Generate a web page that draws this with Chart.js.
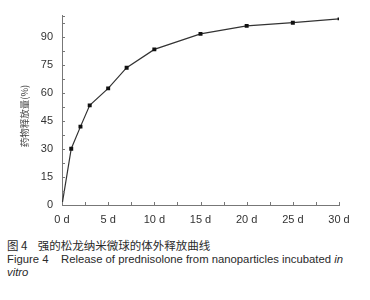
<!DOCTYPE html>
<html>
<head>
<meta charset="utf-8">
<script src="https://cdn.jsdelivr.net/npm/chart.js@4/dist/chart.umd.min.js"></script>
<style>
  html, body { margin: 0; padding: 0; background: #fff; }
  body { width: 370px; height: 300px; position: relative; overflow: hidden; }
  #wrap { position: absolute; left: 0; top: 0; width: 370px; height: 230px; }
  .cap { position: absolute; left: 7px; color: #2a2a2a; white-space: nowrap; }
  #c1 { top: 238px; font: 11.5px "Noto Sans CJK SC", sans-serif; line-height: 14px; }
  #c2 { top: 253px; font: 11.3px "Liberation Sans", Arial, sans-serif; line-height: 12.5px; }
</style>
</head>
<body>
<div id="wrap"><canvas id="chart"></canvas></div>
<div class="cap" id="c1">图 4&nbsp;&nbsp;&nbsp; 强的松龙纳米微球的体外释放曲线</div>
<div class="cap" id="c2">Figure 4&nbsp;&nbsp;&nbsp; Release of prednisolone from nanoparticles incubated <i>in</i><br><i>vitro</i></div>
<script>
// ---- data ----
const days = [0, 1, 2, 3, 5, 7, 10, 15, 20, 25, 30];
const releasePct = [0, 30.2, 42.0, 53.4, 62.5, 73.6, 83.4, 91.7, 96.0, 97.7, 99.7];
const xTickValues = [0, 5, 10, 15, 20, 25, 30];
const xTickLabels = ['0 d', '5 d', '10 d', '15 d', '20 d', '25 d', '30 d'];
const yTickValues = [0, 15, 30, 45, 60, 75, 90];
const yTickLabels = ['0', '15', '30', '45', '60', '75', '90'];
const yTitle = '药物释放量(%)';

const insideTicks = {
  id: 'insideTicks',
  afterDraw(chart) {
    const ctx = chart.ctx, xs = chart.scales.x, ys = chart.scales.y;
    const a = chart.chartArea;
    ctx.save();
    ctx.strokeStyle = '#777';
    ctx.lineWidth = 1;
    ctx.beginPath();
    for (let v = xs.min; v <= xs.max + 1e-6; v += 2.5) {
      const px = Math.round(xs.getPixelForValue(v)) + 0.5;
      ctx.moveTo(px, a.bottom);
      ctx.lineTo(px, a.bottom - 3);
    }
    const yv = [];
    for (let v = ys.min; v <= ys.max + 1e-6; v += 7.5) yv.push(v);
    yv.push(ys.max);
    yv.forEach(v => {
      const py = Math.round(ys.getPixelForValue(v)) + 0.5;
      ctx.moveTo(a.left, py);
      ctx.lineTo(a.left + 3, py);
    });
    ctx.stroke();
    // y-axis title, rotated
    ctx.translate(24, 116);
    ctx.rotate(-Math.PI / 2);
    ctx.fillStyle = '#444';
    ctx.font = '9.5px "Noto Sans CJK SC", sans-serif';
    ctx.textAlign = 'center';
    ctx.textBaseline = 'middle';
    ctx.fillText(yTitle, 0, 0);
    ctx.restore();
  }
};

new Chart(document.getElementById('chart'), {
  type: 'line',
  data: {
    datasets: [{
      data: days.map((d, i) => ({ x: d, y: releasePct[i] })),
      borderColor: '#333',
      borderWidth: 1.2,
      backgroundColor: '#111',
      pointStyle: 'rect',
      pointRadius: days.map((d, i) => i === 0 ? 0 : (i === days.length - 1 ? 2 : 2.8)),
      pointBorderWidth: 0,
      tension: 0,
      fill: false
    }]
  },
  options: {
    responsive: true,
    maintainAspectRatio: false,
    animation: false,
    devicePixelRatio: 1,
    layout: { padding: { top: 7.5, right: 31, left: 0, bottom: 0 } },
    plugins: { legend: { display: false }, tooltip: { enabled: false } },
    scales: {
      x: {
        type: 'linear',
        min: 0, max: 30,
        afterBuildTicks: s => { s.ticks = xTickValues.map(v => ({ value: v })); },
        afterFit: s => { s.height = 25; },
        grid: { display: true, drawOnChartArea: false, drawTicks: false },
        border: { display: true, color: '#777', width: 1 },
        ticks: {
          padding: 8,
          color: '#333',
          font: { family: '"Liberation Sans", Arial, sans-serif', size: 11 },
          callback: (v, i) => xTickLabels[i],
          maxRotation: 0
        }
      },
      y: {
        type: 'linear',
        min: 0, max: 101.5,
        afterBuildTicks: s => { s.ticks = yTickValues.map(v => ({ value: v })); },
        afterFit: s => { s.width = 62; },
        grid: { display: true, drawOnChartArea: false, drawTicks: false },
        border: { display: true, color: '#777', width: 1 },
        ticks: {
          padding: 9,
          color: '#333',
          font: { family: '"Liberation Sans", Arial, sans-serif', size: 11 },
          callback: (v, i) => yTickLabels[i]
        },
        title: { display: false, text: yTitle }
      }
    }
  },
  plugins: [insideTicks]
});
</script>
</body>
</html>
